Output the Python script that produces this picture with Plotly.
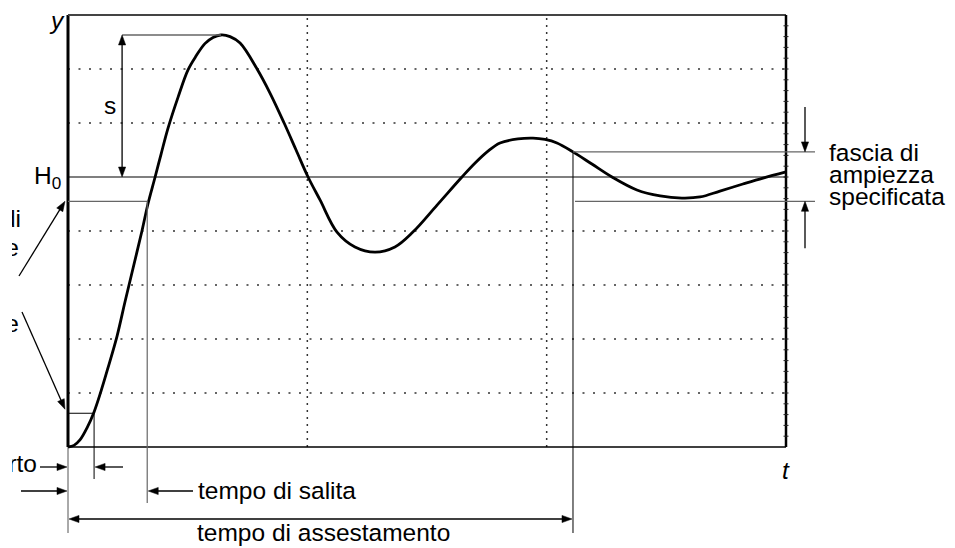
import math
import plotly.graph_objects as go

# ---------------- data (time in grid divisions, response normalised to H0 = 1) ----------------
t_vals = [0.000, 0.025, 0.050, 0.079, 0.109, 0.138, 0.167, 0.205, 0.238, 0.272, 0.309,
          0.334, 0.364, 0.389, 0.418, 0.460, 0.501, 0.535, 0.572, 0.606, 0.639, 0.677,
          0.719, 0.790, 0.844, 0.903, 0.953, 1.003, 1.053, 1.124, 1.199, 1.283, 1.366,
          1.441, 1.542, 1.646, 1.701, 1.755, 1.805, 1.880, 1.943, 1.993, 2.043, 2.110,
          2.189, 2.273, 2.377, 2.474, 2.565, 2.641, 2.724, 2.820, 2.904, 3.000]
y_vals = [0.000, 0.006, 0.026, 0.070, 0.130, 0.207, 0.293, 0.411, 0.537, 0.663, 0.800,
          0.900, 1.000, 1.085, 1.181, 1.296, 1.396, 1.448, 1.494, 1.517, 1.526, 1.520,
          1.496, 1.400, 1.311, 1.200, 1.100, 1.000, 0.915, 0.796, 0.741, 0.722, 0.741,
          0.796, 0.896, 1.000, 1.052, 1.096, 1.126, 1.141, 1.144, 1.139, 1.126, 1.093,
          1.048, 1.000, 0.952, 0.930, 0.922, 0.926, 0.948, 0.974, 0.996, 1.019]

H0 = 1.0
y10, y90 = 0.125, 0.91          # rise-time thresholds
t10, t90 = 0.109, 0.331         # crossing times of the thresholds
band_hi, band_lo = 1.093, 0.91  # settling band
t_settle = 2.11
t_s_arrow = 0.226               # where the overshoot arrow is drawn
x_ticks = [1, 2]
y_ticks = [0.2, 0.4, 0.6, 0.8, 1.2, 1.4]
T_MAX = 3.0
Y_MAX = 1.6

peak_i = max(range(len(y_vals)), key=lambda i: y_vals[i])
peak_t, peak_y = t_vals[peak_i], y_vals[peak_i]

# ---------------- geometry: the single subplot fills the whole page ----------------
W, H = 955, 548
FL, FR, FT, FB = 68, 786, 15, 447          # frame in page pixels
SX = (FR - FL) / T_MAX                     # px per time unit
SY = (FB - FT) / Y_MAX                     # px per response unit
X_RANGE = [-FL / SX, (W - FL) / SX]
Y_RANGE = [-(H - FB) / SY, (FB) / SY]
FONT = "Liberation Sans, Arial, sans-serif"
FS = 24.5


def px(t):
    return FL + t * SX


def py(v):
    return FB - v * SY


def dx(p):
    return (p - FL) / SX


def dy(p):
    return (FB - p) / SY


shapes = []


def seg(x0, y0, x1, y1, color="black", width=1.0, dash=None, layer="above"):
    ln = dict(color=color, width=width)
    if dash:
        ln["dash"] = dash
    shapes.append(dict(type="line", xref="x", yref="y",
                       x0=dx(x0), y0=dy(y0), x1=dx(x1), y1=dy(y1),
                       line=ln, layer=layer))


def head(xt, yt, xf, yf, L=10.0, w=3.6):
    d = math.hypot(xt - xf, yt - yf)
    ux, uy = (xt - xf) / d, (yt - yf) / d
    bx, by = xt - ux * L, yt - uy * L
    nx, ny = -uy, ux
    pts = [(xt, yt), (bx + nx * w, by + ny * w), (bx - nx * w, by - ny * w)]
    path = "M " + " L ".join(f"{dx(a):.5f},{dy(b):.5f}" for a, b in pts) + " Z"
    shapes.append(dict(type="path", xref="x", yref="y", path=path,
                       fillcolor="black", line=dict(color="black", width=0.5),
                       layer="above"))
    return bx + ux * 1, by + uy * 1


def arrow(x0, y0, x1, y1, both=False, width=1.3):
    bx, by = head(x1, y1, x0, y0)
    sx, sy = x0, y0
    if both:
        sx, sy = head(x0, y0, x1, y1)
    seg(sx, sy, bx, by, width=width)


# dotted grid
for v in y_ticks:
    seg(px(0), py(v), px(T_MAX), py(v), color="#333", width=1.5, dash="2px,8.5px", layer="below")
for t in x_ticks:
    seg(px(t), py(0), px(t), py(Y_MAX), color="#333", width=1.5, dash="2px,5px", layer="below")

# mask hiding the cut-off words on the left edge
shapes.append(dict(type="rect", xref="x", yref="y",
                   x0=dx(-10), x1=dx(12), y0=dy(480), y1=dy(195),
                   fillcolor="white", line=dict(width=0), layer="above"))

# frame
seg(px(0), py(Y_MAX), px(0), py(0), width=3)
seg(px(0), py(0), px(0), 533, color="#555", width=1)
seg(px(0), py(Y_MAX), px(T_MAX), py(Y_MAX), color="#444", width=2)
seg(px(T_MAX), py(Y_MAX), px(T_MAX), py(0), width=2.5)
seg(px(0), py(0), px(T_MAX), py(0), width=1.5)
# small ticks along the right border
n_minor = 40
for k in range(1, n_minor):
    yy = py(Y_MAX * k / n_minor)
    seg(px(T_MAX) - 2.5, yy, px(T_MAX) + 2.5, yy, color="#222", width=1)

# reference lines
seg(px(0), py(H0), px(T_MAX), py(H0), width=1.2)
seg(px(t_s_arrow), py(peak_y), px(peak_t), py(peak_y), color="#666", width=1.3)
seg(px(0), py(y90), px(t90), py(y90), color="#666", width=1.3)
seg(px(t90), py(y90), px(t90), 503, color="#666", width=1.2)
seg(px(0), py(y10), px(t10), py(y10), width=1)
seg(px(t10), py(y10), px(t10), 479, width=1)
seg(px(t_settle), py(band_hi), px(t_settle), 533, width=1)
seg(px(t_settle), py(band_hi), 815, py(band_hi), color="#666", width=1.3)
seg(px(t_settle) + 2, py(band_lo), 815, py(band_lo), color="#666", width=1.3)

# arrows
arrow(px(t_s_arrow), py(H0), px(t_s_arrow), py(peak_y), both=True)
arrow(805, py(band_hi) - 45, 805, py(band_hi))
arrow(805, py(band_lo) + 47, 805, py(band_lo))
arrow(19, 276, 65, py(y90))
arrow(22, 312, 65, py(y10) - 4)
arrow(40, 467, px(0) - 1, 467)
arrow(123, 467, px(t10) + 1, 467)
arrow(21, 491, px(0) - 1, 491)
arrow(193, 491, px(t90) + 1, 491)
arrow(px(0) + 1, 519, px(t_settle) - 1, 519, both=True)

# ---------------- figure ----------------
fig = go.Figure()
fig.add_trace(go.Scatter(x=t_vals, y=y_vals, mode="lines",
                         line=dict(color="black", width=2.8, shape="spline", smoothing=1.0),
                         hoverinfo="skip", showlegend=False))

# words cut by the left edge (partly hidden by the mask)
fig.add_trace(go.Scatter(
    x=[dx(37), dx(21), dx(19), dx(19)],
    y=[dy(466), dy(221), dy(250), dy(326)],
    text=["tempo morto", "soglia di", "regime", "regime"],
    mode="text", textposition="middle left",
    textfont=dict(family=FONT, size=FS, color="black"),
    hoverinfo="skip", showlegend=False))

annotations = []


def label(text, x, y, xanchor="center", size=FS):
    annotations.append(dict(text=text, xref="x", yref="y", x=dx(x), y=dy(y),
                            xanchor=xanchor, yanchor="middle", showarrow=False,
                            font=dict(family=FONT, size=size, color="black")))


label("<i>y</i>", 57, 20)
label("<i>t</i>", 786, 470)
label("s", 110, 105)
label("H<sub>0</sub>", 63, 177, xanchor="right")
label("tempo di salita", 196, 490, xanchor="left")
label("tempo di assestamento", 323, 532)
label("fascia di", 827, 152, xanchor="left")
label("ampiezza", 827, 174, xanchor="left")
label("specificata", 827, 196, xanchor="left")

fig.update_layout(
    width=W, height=H,
    margin=dict(l=0, r=0, t=0, b=0, pad=0),
    paper_bgcolor="white", plot_bgcolor="white",
    shapes=shapes, annotations=annotations,
    xaxis=dict(range=X_RANGE, visible=False, fixedrange=True),
    yaxis=dict(range=Y_RANGE, visible=False, fixedrange=True),
)

fig.write_html("out.html")
